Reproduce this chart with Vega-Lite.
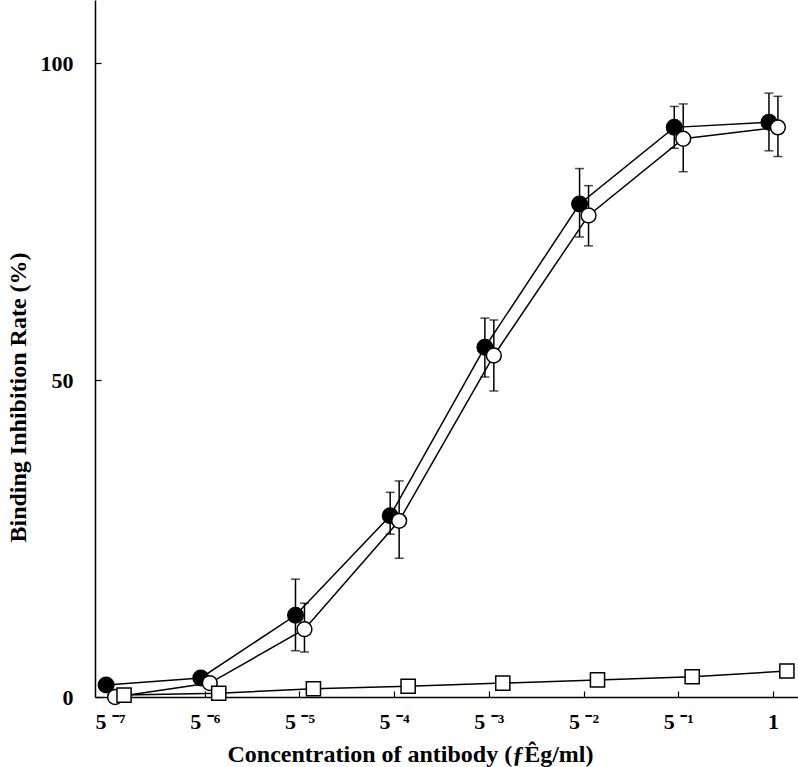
{
  "$schema": "https://vega.github.io/schema/vega-lite/v6.json",
  "width": 703,
  "height": 697,
  "autosize": "none",
  "padding": {"left": 95, "top": 0, "right": 0, "bottom": 70},
  "config": {
    "view": {"stroke": null},
    "font": "Liberation Serif",
    "axis": {
      "domainColor": "black",
      "domainWidth": 1.5,
      "tickColor": "black",
      "tickWidth": 1.2,
      "grid": false,
      "labelFont": "Liberation Serif",
      "labelFontWeight": "bold",
      "labelColor": "black",
      "labelFontSize": 22,
      "titleFont": "Liberation Serif",
      "titleFontWeight": "bold",
      "titleColor": "black",
      "titleFontSize": 24
    }
  },
  "data": {
    "values": [
      {"conc": "5 ⁻⁷", "series": "filled", "rate": 1.9},
      {"conc": "5 ⁻⁶", "series": "filled", "rate": 3.0},
      {"conc": "5 ⁻⁵", "series": "filled", "rate": 12.9, "lo": 7.3, "hi": 18.6},
      {"conc": "5 ⁻⁴", "series": "filled", "rate": 28.6, "lo": 25.7, "hi": 32.3},
      {"conc": "5 ⁻³", "series": "filled", "rate": 55.2, "lo": 50.5, "hi": 59.8},
      {"conc": "5 ⁻²", "series": "filled", "rate": 77.8, "lo": 72.6, "hi": 83.4},
      {"conc": "5 ⁻¹", "series": "filled", "rate": 89.9, "lo": 86.6, "hi": 93.2},
      {"conc": "1", "series": "filled", "rate": 90.7, "lo": 86.2, "hi": 95.3},
      {"conc": "5 ⁻⁷", "series": "open", "rate": 0.0},
      {"conc": "5 ⁻⁶", "series": "open", "rate": 2.2},
      {"conc": "5 ⁻⁵", "series": "open", "rate": 10.7, "lo": 7.1, "hi": 14.8},
      {"conc": "5 ⁻⁴", "series": "open", "rate": 27.8, "lo": 21.9, "hi": 34.1},
      {"conc": "5 ⁻³", "series": "open", "rate": 53.9, "lo": 48.3, "hi": 59.5},
      {"conc": "5 ⁻²", "series": "open", "rate": 76.0, "lo": 71.2, "hi": 80.7},
      {"conc": "5 ⁻¹", "series": "open", "rate": 88.1, "lo": 82.9, "hi": 93.6},
      {"conc": "1", "series": "open", "rate": 89.9, "lo": 85.3, "hi": 94.8},
      {"conc": "5 ⁻⁷", "series": "square", "rate": 0.3},
      {"conc": "5 ⁻⁶", "series": "square", "rate": 0.6},
      {"conc": "5 ⁻⁵", "series": "square", "rate": 1.3},
      {"conc": "5 ⁻⁴", "series": "square", "rate": 1.7},
      {"conc": "5 ⁻³", "series": "square", "rate": 2.2},
      {"conc": "5 ⁻²", "series": "square", "rate": 2.7},
      {"conc": "5 ⁻¹", "series": "square", "rate": 3.2},
      {"conc": "1", "series": "square", "rate": 4.1}
    ]
  },
  "encoding": {
    "x": {
      "field": "conc",
      "type": "ordinal",
      "sort": null,
      "scale": {
        "domain": ["5 ⁻⁷", "5 ⁻⁶", "5 ⁻⁵", "5 ⁻⁴", "5 ⁻³", "5 ⁻²", "5 ⁻¹", "1"],
        "paddingInner": 0.716,
        "paddingOuter": 0.07
      },
      "axis": {
        "title": "Concentration of antibody (ƒÊg/ml)",
        "labelAngle": 0,
        "tickSize": -6,
        "tickOffset": -5,
        "labelPadding": 20,
        "titleX": 315,
        "titleY": 64,
        "titleBaseline": "alphabetic"
      }
    },
    "xOffset": {
      "field": "series",
      "type": "nominal",
      "scale": {"domain": ["filled", "open", "square"]}
    },
    "y": {
      "field": "rate",
      "type": "quantitative",
      "scale": {"domain": [0, 110], "nice": false},
      "axis": {
        "title": "Binding Inhibition Rate (%)",
        "values": [0, 50, 100],
        "tickSize": -6,
        "labelPadding": 28,
        "titleX": -77,
        "titleY": 397,
        "titleAnchor": "middle",
        "titleAlign": "center",
        "titleBaseline": "middle"
      }
    }
  },
  "layer": [
    {
      "mark": {"type": "line", "color": "black", "strokeWidth": 1.5},
      "encoding": {"detail": {"field": "series"}}
    },
    {
      "mark": {"type": "rule", "color": "black", "strokeWidth": 1.5},
      "encoding": {"y": {"field": "lo", "type": "quantitative"}, "y2": {"field": "hi"}}
    },
    {
      "mark": {"type": "tick", "color": "black", "thickness": 1.5, "size": 9},
      "encoding": {"y": {"field": "lo", "type": "quantitative"}}
    },
    {
      "mark": {"type": "tick", "color": "black", "thickness": 1.5, "size": 9},
      "encoding": {"y": {"field": "hi", "type": "quantitative"}}
    },
    {
      "mark": {"type": "point", "stroke": "black", "strokeWidth": 1.5, "opacity": 1, "filled": false},
      "encoding": {
        "shape": {"field": "series", "type": "nominal", "scale": {"domain": ["filled", "open", "square"], "range": ["circle", "circle", "square"]}, "legend": null},
        "fill": {"field": "series", "type": "nominal", "scale": {"domain": ["filled", "open", "square"], "range": ["black", "white", "white"]}, "legend": null},
        "size": {"field": "series", "type": "nominal", "scale": {"domain": ["filled", "open", "square"], "range": [240, 200, 200]}, "legend": null}
      }
    }
  ]
}
